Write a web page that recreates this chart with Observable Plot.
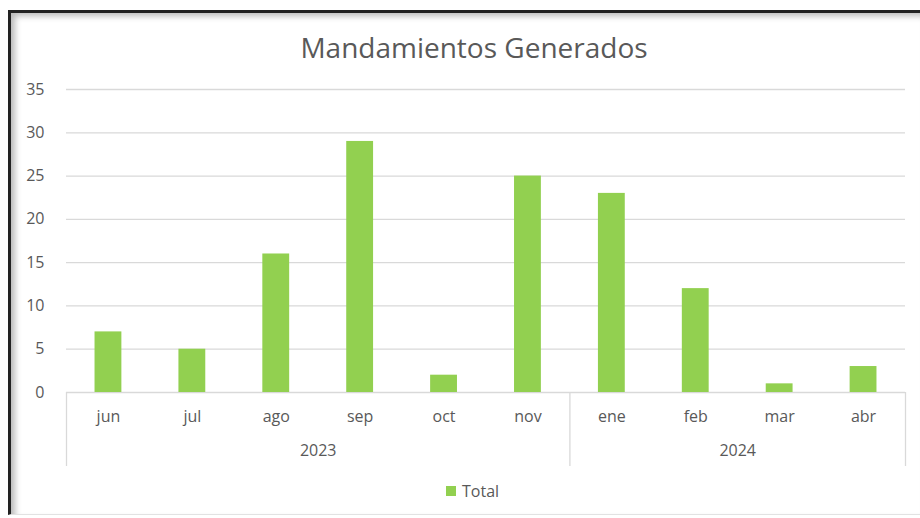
<!DOCTYPE html>
<html>
<head>
<meta charset="utf-8">
<script src="https://cdn.jsdelivr.net/npm/d3@7"></script>
<script src="https://cdn.jsdelivr.net/npm/@observablehq/plot@0.6"></script>
<style>
  html, body { margin: 0; padding: 0; background: #fff; }
  #wrap { position: relative; width: 920px; height: 518px; overflow: hidden; font-family: "Open Sans", sans-serif; }
  #frame { position: absolute; left: 8px; top: 10px; width: 912px; height: 505px; box-sizing: border-box;
           border-left: 3px solid #222; border-top: 3px solid #222; border-bottom: 1px solid #e2e2e2;
           box-shadow: inset 5px 4px 6px -1px rgba(0,0,0,0.28); pointer-events: none; }
  #title { position: absolute; top: 33px; left: 474px; transform: translateX(-50%); white-space: nowrap;
           font-size: 28px; line-height: 1; color: #595959; }
  #chart { position: absolute; left: 0; top: 70px; }
  #legend { position: absolute; left: 446px; top: 480px; display: flex; align-items: center; gap: 6px;
            font-size: 16px; color: #595959; }
  #legend .sw { width: 10px; height: 10px; background: #92d050; }
</style>
</head>
<body>
<div id="wrap">
  <div id="frame"></div>
  <div id="title">Mandamientos Generados</div>
  <div id="chart"></div>
  <div id="legend"><span class="sw"></span><span>Total</span></div>
</div>
<script>
// Data
const months = ["jun", "jul", "ago", "sep", "oct", "nov", "ene", "feb", "mar", "abr"];
const years = ["2023", "2023", "2023", "2023", "2023", "2023", "2024", "2024", "2024", "2024"];
const totals = [7, 5, 16, 29, 2, 25, 23, 12, 1, 3];
const yTicks = [0, 5, 10, 15, 20, 25, 30, 35];
const yearLabels = ["2023", "2024"];
const yearMid = ["sep", "mar"];       // category right of each year group's centre
const groupStarts = ["jun", "ene"];   // first category of each year group
const groupEnd = ["abr"];             // last category

const data = months.map((m, i) => ({month: m, year: years[i], total: totals[i]}));

const W = 920, H = 405, mL = 66, mR = 15, mT = 19, mB = 83;
const step = (W - mL - mR) / months.length;
const frameH = H - mT - mB;
const sepDepth = 74;
const grid = "#d9d9d9", txt = "#595959";

const chart = Plot.plot({
  width: W, height: H,
  marginLeft: mL, marginRight: mR, marginTop: mT, marginBottom: mB,
  style: {fontFamily: "'Open Sans', sans-serif", fontSize: "16px", color: txt, background: "transparent"},
  x: {domain: months, paddingInner: 0.68, paddingOuter: 0.34, round: false},
  y: {domain: [0, 35]},
  marks: [
    Plot.gridY(yTicks, {stroke: grid, strokeOpacity: 1, strokeWidth: 1.3}),
    Plot.barY(data, {x: "month", y: "total", fill: "#92d050"}),
    Plot.axisY(yTicks, {tickSize: 0, tickPadding: 22, label: null, fill: txt}),
    Plot.axisX({tickSize: 0, tickPadding: 18, label: null, fill: txt}),
    Plot.ruleX(groupStarts, {dx: -step / 2, insetTop: frameH, insetBottom: -sepDepth, stroke: grid, strokeWidth: 1.3}),
    Plot.ruleX(groupEnd, {dx: step / 2, insetTop: frameH, insetBottom: -sepDepth, stroke: grid, strokeWidth: 1.3}),
    Plot.text(yearLabels, {x: yearMid, dx: -step / 2, frameAnchor: "bottom", dy: 63, fill: txt, fontSize: 16})
  ]
});
document.getElementById("chart").appendChild(chart);
</script>
</body>
</html>
